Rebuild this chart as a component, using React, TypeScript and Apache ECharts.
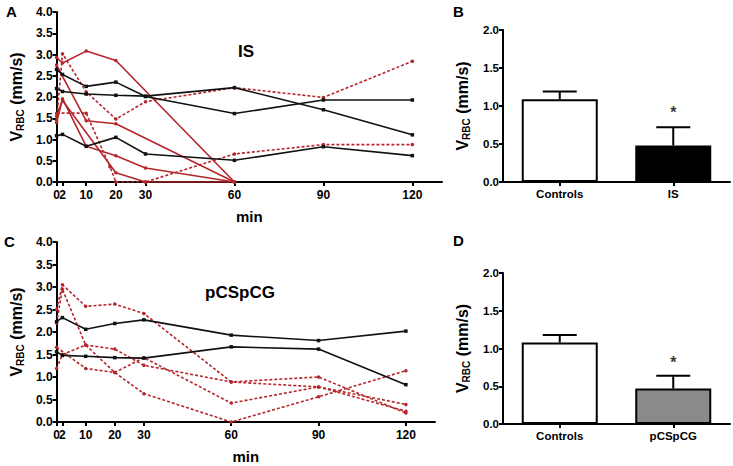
import React, { useEffect, useRef } from "react";
import * as echarts from "echarts";

// ---- Tick values ----
const timeTicks = [0, 2, 10, 20, 30, 60, 90, 120];
const timeLabelsMain = [0, 10, 20, 30, 60, 90, 120];
const timeLabelsExtra = [2];

// ---- Panel A (IS) : [min, VRBC] ----
const isCtrl1 = [[0, 2.65], [2, 2.53], [10, 2.25], [20, 2.35], [30, 2.01], [60, 1.61], [90, 1.93], [120, 1.93]];
const isCtrl2 = [[0, 2.2], [2, 2.13], [10, 2.07], [20, 2.04], [30, 2.02], [60, 2.22], [90, 1.7], [120, 1.11]];
const isCtrl3 = [[0, 1.09], [2, 1.12], [10, 0.84], [20, 1.05], [30, 0.66], [60, 0.51], [90, 0.83], [120, 0.62]];
const isRed1 = [[0, 2.93], [2, 2.8], [10, 3.08], [20, 2.86], [60, 0]];
const isRed2 = [[0, 2.75], [10, 1.44], [20, 1.37], [60, 0]];
const isRed3 = [[0, 1.4], [2, 1.96], [10, 0.84], [20, 0.62], [30, 0.33], [60, 0]];
const isRed4 = [[0, 1.55], [2, 1.92], [20, 0.22], [30, 0], [60, 0]];
const isDash1 = [[0, 1.45], [2, 3.02], [10, 2.12], [20, 1.48], [30, 1.89], [60, 2.22], [90, 1.99], [120, 2.84]];
const isDash2 = [[0, 1.62], [10, 1.62], [18, 0.36], [20, 0], [30, 0], [60, 0.66], [90, 0.88], [120, 0.88]];

// ---- Panel C (pCSpCG) ----
const pcCtrl1 = [[0, 2.23], [2, 2.32], [10, 2.06], [20, 2.19], [30, 2.27], [60, 1.93], [90, 1.81], [120, 2.02]];
const pcCtrl2 = [[0, 1.56], [2, 1.48], [10, 1.46], [20, 1.43], [30, 1.42], [60, 1.67], [90, 1.62], [120, 0.83]];
const pcDash1 = [[0, 2.5], [2, 3.05], [10, 2.57], [20, 2.62], [30, 2.41], [60, 0.89], [90, 0.78], [120, 0.24]];
const pcDash2 = [[0, 2.2], [2, 2.95], [10, 1.71], [20, 1.1], [30, 0.63], [60, 0], [90, 0.56], [120, 1.14]];
const pcDash3 = [[0, 1.66], [10, 1.19], [20, 1.1], [30, 1.43], [60, 0.42], [90, 0.78], [120, 0.39]];
const pcDash4 = [[0, 1.19], [2, 1.5], [10, 1.71], [20, 1.62], [30, 1.26], [60, 0.89], [90, 1.0], [120, 0.2]];

// ---- Panels B and D (bars) ----
const barCatsB = ["Controls", "IS"];
const barMeansB = [1.09, 0.48];
const barSemB = [0.1, 0.24];
const starB = 0.92;

const barCatsD = ["Controls", "pCSpCG"];
const barMeansD = [1.08, 0.47];
const barSemD = [0.1, 0.17];
const starD = 0.82;

const FONT = "Liberation Sans, Arial, sans-serif";
const RED = "#b5262b";
const BLACK = "#111";

const yName = "{v|V}{s|RBC}{v| (mm/s)}";
const yRich = {
  v: { fontSize: 16, fontWeight: "bold", fontFamily: FONT, color: "#000", lineHeight: 18 },
  s: { fontSize: 10, fontWeight: "bold", fontFamily: FONT, color: "#000", verticalAlign: "bottom", lineHeight: 18, padding: [6, 0, 0, 0] },
};

const axisLine = { show: true, lineStyle: { color: "#000", width: 2 } };
const axisTick = { show: true, inside: false, length: 4, lineStyle: { color: "#000", width: 2 } };
const tickLabel = { color: "#000", fontWeight: "bold", fontSize: 12, fontFamily: FONT };

function lineSeries(data: number[][], idx: number, color: string, dashed: boolean) {
  return {
    type: "line",
    xAxisIndex: idx,
    yAxisIndex: idx,
    data,
    symbol: color === BLACK ? "rect" : "circle",
    symbolSize: 3.5,
    showSymbol: true,
    itemStyle: { color },
    lineStyle: { color, width: 1.6, type: dashed ? [3, 2] : "solid" },
    silent: true,
    z: color === BLACK ? 3 : 2,
  };
}

function errSeries(idx: number, means: number[], sem: number[]) {
  return {
    type: "custom",
    xAxisIndex: idx,
    yAxisIndex: idx,
    data: means.map((m, i) => [i, m, sem[i]]),
    z: 5,
    renderItem: (params: any, api: any) => {
      const x = api.value(0);
      const m = api.value(1);
      const e = api.value(2);
      const p0 = api.coord([x, m]);
      const p1 = api.coord([x, m + e]);
      const hw = 17;
      return {
        type: "group",
        children: [
          { type: "line", shape: { x1: p0[0], y1: p0[1], x2: p1[0], y2: p1[1] }, style: { stroke: "#000", lineWidth: 2 } },
          { type: "line", shape: { x1: p1[0] - hw, y1: p1[1], x2: p1[0] + hw, y2: p1[1] }, style: { stroke: "#000", lineWidth: 2 } },
        ],
      };
    },
  };
}

function starSeries(idx: number, v: number) {
  return {
    type: "scatter",
    xAxisIndex: idx,
    yAxisIndex: idx,
    data: [[1, v]],
    symbolSize: 1,
    itemStyle: { color: "transparent" },
    label: { show: true, formatter: "*", position: "inside", color: "#000", fontSize: 16, fontWeight: "bold", fontFamily: FONT },
    silent: true,
  };
}

export default function App() {
  const ref = useRef<HTMLDivElement>(null);
  useEffect(() => {
    if (!ref.current) return;
    const chart = echarts.init(ref.current, undefined, { renderer: "svg" });
    const lineX = (grid: number) => ({
      type: "value",
      gridIndex: grid,
      position: "bottom",
      min: 0,
      max: 130,
      axisLine,
      axisTick: { ...axisTick, customValues: timeTicks },
      axisLabel: { ...tickLabel, customValues: timeLabelsMain, margin: 7, showMinLabel: true, hideOverlap: false },
      splitLine: { show: false },
      name: "min",
      nameLocation: "middle",
      nameGap: 27,
      nameTextStyle: { color: "#000", fontSize: 15, fontWeight: "bold", fontFamily: FONT },
    });
    const lineXExtra = (grid: number) => ({
      type: "value",
      gridIndex: grid,
      position: "bottom",
      offset: 0,
      min: 0,
      max: 130,
      axisLine: { show: false },
      axisTick: { show: false },
      axisLabel: { ...tickLabel, customValues: timeLabelsExtra, margin: 7, hideOverlap: false },
      splitLine: { show: false },
    });
    const lineY = (grid: number) => ({
      type: "value",
      gridIndex: grid,
      min: 0,
      max: 4,
      interval: 0.5,
      axisLine,
      axisTick,
      axisLabel: { ...tickLabel, formatter: (v: number) => v.toFixed(1), margin: 4 },
      splitLine: { show: false },
      name: yName,
      nameLocation: "middle",
      nameRotate: 90,
      nameGap: 30,
      nameTextStyle: { rich: yRich },
    });
    const barX = (grid: number, cats: string[]) => ({
      type: "category",
      gridIndex: grid,
      data: cats,
      axisLine,
      axisTick: { ...axisTick, alignWithLabel: true },
      axisLabel: { ...tickLabel, fontSize: 11.5, margin: 6 },
    });
    const barY = (grid: number) => ({
      type: "value",
      gridIndex: grid,
      min: 0,
      max: 2,
      interval: 0.5,
      axisLine,
      axisTick,
      axisLabel: { ...tickLabel, fontSize: 11.5, formatter: (v: number) => v.toFixed(1), margin: 4 },
      splitLine: { show: false },
      name: yName,
      nameLocation: "middle",
      nameRotate: 90,
      nameGap: 32,
      nameTextStyle: { rich: yRich },
    });
    const panelLabel = (t: string, x: number, y: number) => ({
      type: "text",
      left: x,
      top: y,
      style: { text: t, fill: "#000", font: `bold 15px ${FONT}` },
    });
    chart.setOption({
      animation: false,
      backgroundColor: "#fff",
      grid: [
        { left: 56, top: 12, width: 386, height: 170 },
        { left: 503, top: 30, width: 227, height: 152 },
        { left: 55, top: 242, width: 380, height: 180 },
        { left: 503, top: 273, width: 227, height: 151 },
      ],
      // x axes: 0 A, 1 B, 2 C, 3 D, 4 A extra label, 5 C extra label
      xAxis: [lineX(0), barX(1, barCatsB), lineX(2), barX(3, barCatsD), lineXExtra(0), lineXExtra(2)],
      yAxis: [lineY(0), barY(1), lineY(2), barY(3)],
      graphic: [
        panelLabel("A", 6, 4),
        panelLabel("B", 453, 4),
        panelLabel("C", 4, 234),
        panelLabel("D", 453, 233),
        { type: "text", left: 238, top: 43, style: { text: "IS", fill: "#000", font: `bold 17px ${FONT}` } },
        { type: "text", left: 205, top: 284, style: { text: "pCSpCG", fill: "#000", font: `bold 17px ${FONT}` } },
      ],
      series: [
        lineSeries(isRed1, 0, RED, false),
        lineSeries(isRed2, 0, RED, false),
        lineSeries(isRed3, 0, RED, false),
        lineSeries(isRed4, 0, RED, false),
        lineSeries(isDash1, 0, RED, true),
        lineSeries(isDash2, 0, RED, true),
        lineSeries(isCtrl1, 0, BLACK, false),
        lineSeries(isCtrl2, 0, BLACK, false),
        lineSeries(isCtrl3, 0, BLACK, false),
        {
          type: "bar",
          xAxisIndex: 1,
          yAxisIndex: 1,
          barWidth: 76,
          data: barMeansB.map((v, i) => ({ value: v, itemStyle: { color: i === 0 ? "#fff" : "#000", borderColor: "#000", borderWidth: 2 } })),
        },
        errSeries(1, barMeansB, barSemB),
        starSeries(1, starB),
        lineSeries(pcDash1, 2, RED, true),
        lineSeries(pcDash2, 2, RED, true),
        lineSeries(pcDash3, 2, RED, true),
        lineSeries(pcDash4, 2, RED, true),
        lineSeries(pcCtrl1, 2, BLACK, false),
        lineSeries(pcCtrl2, 2, BLACK, false),
        {
          type: "bar",
          xAxisIndex: 3,
          yAxisIndex: 3,
          barWidth: 76,
          data: barMeansD.map((v, i) => ({ value: v, itemStyle: { color: i === 0 ? "#fff" : "#8a8a8a", borderColor: "#000", borderWidth: 2 } })),
        },
        errSeries(3, barMeansD, barSemD),
        starSeries(3, starD),
      ],
    });
    return () => chart.dispose();
  }, []);
  return <div ref={ref} style={{ position: "fixed", left: 0, top: 0, width: 733, height: 466, background: "#fff" }} />;
}
